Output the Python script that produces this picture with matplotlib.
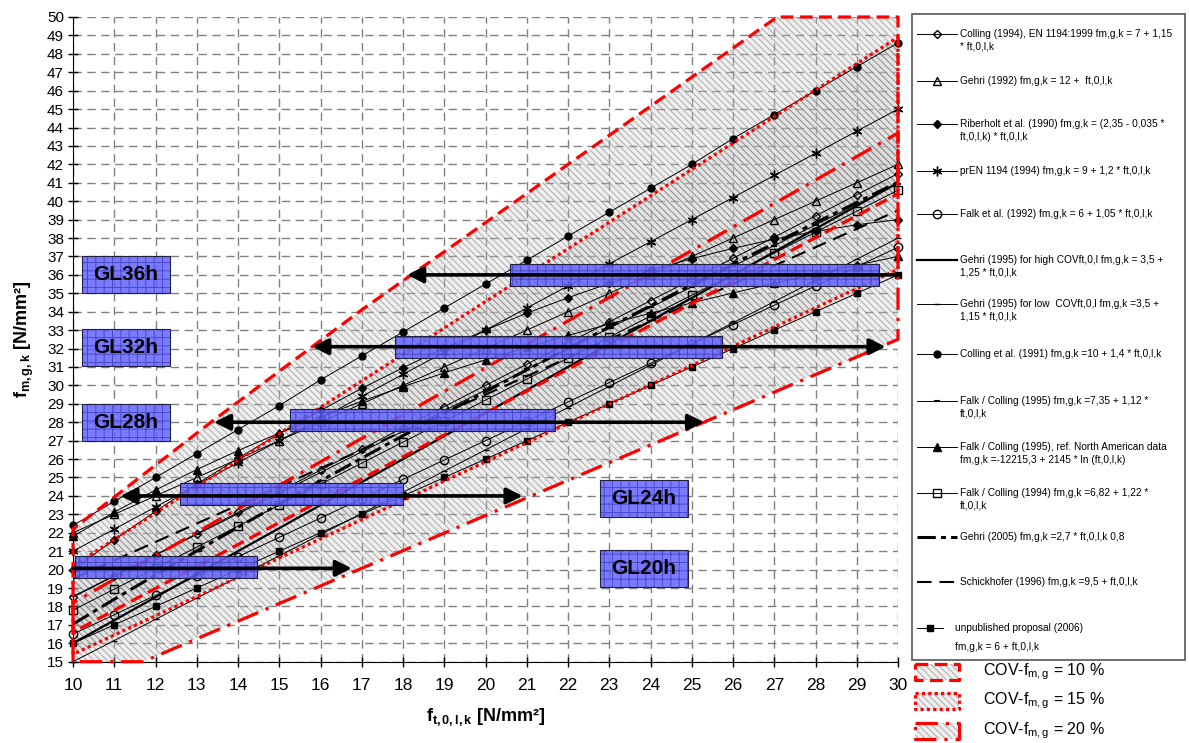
import matplotlib
matplotlib.use('Agg')
import matplotlib.pyplot as plt
from matplotlib.patches import Rectangle

plt.rcParams['font.family'] = ['Liberation Sans', 'DejaVu Sans']
plt.rcParams['mathtext.fontset'] = 'custom'
plt.rcParams['mathtext.rm'] = 'Liberation Sans'
plt.rcParams['mathtext.it'] = 'Liberation Sans'
plt.rcParams['mathtext.bf'] = 'Liberation Sans:bold'
plt.rcParams['hatch.linewidth'] = 0.7

# ---- data ----
ft = [10, 11, 12, 13, 14, 15, 16, 17, 18, 19, 20, 21, 22, 23, 24, 25, 26, 27, 28, 29, 30]

colling94 = [18.5, 19.65, 20.8, 21.95, 23.1, 24.25, 25.4, 26.55, 27.7, 28.85, 30.0,
             31.15, 32.3, 33.45, 34.6, 35.75, 36.9, 38.05, 39.2, 40.35, 41.5]
gehri92 = [22, 23, 24, 25, 26, 27, 28, 29, 30, 31, 32, 33, 34, 35, 36, 37, 38, 39, 40, 41, 42]
riberholt90 = [20.0, 21.62, 23.16, 24.64, 26.04, 27.38, 28.64, 29.84, 30.96, 32.02, 33.0,
               33.92, 34.76, 35.54, 36.24, 36.88, 37.44, 37.94, 38.36, 38.72, 39.0]
pren94 = [21, 22.2, 23.4, 24.6, 25.8, 27, 28.2, 29.4, 30.6, 31.8, 33, 34.2, 35.4, 36.6,
          37.8, 39, 40.2, 41.4, 42.6, 43.8, 45]
falk92 = [16.5, 17.55, 18.6, 19.65, 20.7, 21.75, 22.8, 23.85, 24.9, 25.95, 27.0, 28.05,
          29.1, 30.15, 31.2, 32.25, 33.3, 34.35, 35.4, 36.45, 37.5]
gehri95_high = [16, 17.25, 18.5, 19.75, 21, 22.25, 23.5, 24.75, 26, 27.25, 28.5, 29.75,
                31, 32.25, 33.5, 34.75, 36, 37.25, 38.5, 39.75, 41]
gehri95_low = [15, 16.15, 17.3, 18.45, 19.6, 20.75, 21.9, 23.05, 24.2, 25.35, 26.5, 27.65,
               28.8, 29.95, 31.1, 32.25, 33.4, 34.55, 35.7, 36.85, 38.0]
colling91 = [22.4, 23.7, 25.0, 26.3, 27.6, 28.9, 30.3, 31.6, 32.9, 34.2, 35.5, 36.8,
             38.1, 39.4, 40.7, 42.0, 43.4, 44.7, 46.0, 47.3, 48.6]
falkcol95 = [18.55, 19.67, 20.79, 21.91, 23.03, 24.15, 25.27, 26.39, 27.51, 28.63, 29.75,
             30.87, 31.99, 33.11, 34.23, 35.35, 36.47, 37.59, 38.71, 39.83, 40.95]
falkcol95_na = [21.8, 23.12, 24.32, 25.43, 26.46, 27.41, 28.3, 29.14, 29.93, 30.68, 31.39,
                32.07, 32.71, 33.33, 33.92, 34.48, 35.02, 35.54, 36.05, 36.53, 37.0]
falkcol94 = [17.8, 18.94, 20.08, 21.22, 22.36, 23.5, 24.64, 25.78, 26.92, 28.06, 29.2,
             30.34, 31.48, 32.62, 33.76, 34.9, 36.04, 37.18, 38.32, 39.46, 40.6]
gehri05 = [17.04, 18.39, 19.71, 21.01, 22.3, 23.56, 24.81, 26.05, 27.27, 28.47, 29.66,
           30.84, 32.01, 33.17, 34.32, 35.46, 36.59, 37.71, 38.83, 39.93, 41.03]
schickhofer96 = [19.5, 20.5, 21.5, 22.5, 23.5, 24.5, 25.5, 26.5, 27.5, 28.5, 29.5, 30.5,
                 31.5, 32.5, 33.5, 34.5, 35.5, 36.5, 37.5, 38.5, 39.5]
unpublished06 = [16, 17, 18, 19, 20, 21, 22, 23, 24, 25, 26, 27, 28, 29, 30, 31, 32, 33, 34, 35, 36]

labels = [
    ["Colling (1994), EN 1194:1999 fm,g,k = 7 + 1,15", "* ft,0,l,k"],
    ["Gehri (1992) fm,g,k = 12 +  ft,0,l,k"],
    ["Riberholt et al. (1990) fm,g,k = (2,35 - 0,035 *", "ft,0,l,k) * ft,0,l,k"],
    ["prEN 1194 (1994) fm,g,k = 9 + 1,2 * ft,0,l,k"],
    ["Falk et al. (1992) fm,g,k = 6 + 1,05 * ft,0,l,k"],
    ["Gehri (1995) for high COVft,0,l fm,g,k = 3,5 +", "1,25 * ft,0,l,k"],
    ["Gehri (1995) for low  COVft,0,l fm,g,k =3,5 +", "1,15 * ft,0,l,k"],
    ["Colling et al. (1991) fm,g,k =10 + 1,4 * ft,0,l,k"],
    ["Falk / Colling (1995) fm,g,k =7,35 + 1,12 *", "ft,0,l,k"],
    ["Falk / Colling (1995), ref. North American data", "fm,g,k =-12215,3 + 2145 * ln (ft,0,l,k)"],
    ["Falk / Colling (1994) fm,g,k =6,82 + 1,22 *", "ft,0,l,k"],
    ["Gehri (2005) fm,g,k =2,7 * ft,0,l,k 0,8"],
    ["Schickhofer (1996) fm,g,k =9,5 + ft,0,l,k"],
    ["unpublished proposal (2006)", "fm,g,k = 6 + ft,0,l,k"],
]

# COV bands (corner points)
cov10_x = [10, 10, 13.4, 17, 27.07, 30, 30]
cov10_y = [16.6, 22.2, 28.1, 34.1, 50, 50, 40.4]
cov15_x = [10, 10, 30, 30]
cov15_y = [15.4, 20.2, 48.9, 36.3]
cov20_x = [10, 10, 30, 30, 11.7]
cov20_y = [15, 18.2, 43.7, 32.5, 15]
cov_labels = ["10 %", "15 %", "20 %"]

# GL classes
gl_names = ["GL20h", "GL24h", "GL28h", "GL32h", "GL36h"]
gl_bar_x0 = [10.05, 12.6, 15.27, 17.8, 20.6]
gl_bar_x1 = [14.47, 18.0, 21.68, 25.73, 29.54]
gl_bar_y = [20.13, 24.1, 28.1, 32.1, 36.0]
gl_arrow_y = [20.07, 24.0, 28.0, 32.1, 36.0]
gl_arrow_left = [10.0, 11.15, 13.42, 15.8, 18.1]
gl_arrow_right = [16.76, 20.9, 25.3, 29.7, 30.0]
gl_box_x0 = [22.77, 22.77, 10.22, 10.22, 10.22]
gl_box_y = [20.05, 23.87, 28.0, 32.08, 36.0]

# ---- styles ----
series = [
    (colling94, dict(marker='D', mfc='none', ms=4.5, lw=0.7, ls='-')),
    (gehri92, dict(marker='^', mfc='none', ms=6, lw=0.7, ls='-')),
    (riberholt90, dict(marker='D', mfc='black', ms=4.5, lw=0.7, ls='-')),
    (pren94, dict(marker=(6, 2, 0), mfc='black', ms=7, lw=0.7, ls='-')),
    (falk92, dict(marker='o', mfc='none', ms=6, lw=0.7, ls='-')),
    (gehri95_high, dict(marker='None', lw=1.6, ls='-')),
    (gehri95_low, dict(marker='_', ms=4, lw=0.7, ls='-')),
    (colling91, dict(marker='o', mfc='black', ms=5, lw=0.7, ls='-')),
    (falkcol95, dict(marker='_', ms=5, mew=1.5, lw=0.7, ls='-')),
    (falkcol95_na, dict(marker='^', mfc='black', ms=5.5, lw=0.7, ls='-')),
    (falkcol94, dict(marker='s', mfc='none', ms=5.5, lw=0.7, ls='-')),
    (gehri05, dict(marker='None', lw=2.2, ls=(0, (6, 1.7, 1.6, 1.7)))),
    (schickhofer96, dict(marker='None', lw=1.5, ls=(0, (7, 3.8)))),
    (unpublished06, dict(marker='s', mfc='black', ms=4, lw=0.7, ls='-')),
]

border_ls = [(0, (4, 2)), (0, (1, 1)), (0, (7, 2.5, 1, 2.5))]
hatch_fc = (0.8, 0.8, 0.8, 0.3)
hatch_ec = (0.45, 0.45, 0.45, 0.55)
bar_fc = '#6464ff'
bar_hc = (0.25, 0.25, 0.75, 0.7)

fig = plt.figure(figsize=(11.89, 7.43), dpi=100)
ax = fig.add_axes([73 / 1189, 1 - 661.7 / 743, (898 - 73) / 1189, (661.7 - 17) / 743])

# COV bands
for bx, by in zip([cov10_x, cov15_x, cov20_x], [cov10_y, cov15_y, cov20_y]):
    ax.fill(bx, by, facecolor=hatch_fc, edgecolor=hatch_ec, hatch='\\\\\\\\\\', lw=0, zorder=1)

# series
for vals, st in series:
    ax.plot(ft, vals, color='black', mec='black', zorder=3, clip_on=False, **st)

# band borders on top of lines
for bx, by, ls in zip([cov10_x, cov15_x, cov20_x], [cov10_y, cov15_y, cov20_y], border_ls):
    ax.plot(bx + bx[:1], by + by[:1], color='red', lw=2.3, ls=ls, solid_capstyle='butt',
            dash_capstyle='butt', zorder=4, clip_on=False)

# GL bars and arrows
for x0, x1, yc in zip(gl_bar_x0, gl_bar_x1, gl_bar_y):
    ax.add_patch(Rectangle((x0, yc - 0.6), x1 - x0, 1.2, facecolor=bar_fc, alpha=0.85,
                           edgecolor=bar_hc, hatch='++', lw=0, zorder=5))
    ax.add_patch(Rectangle((x0, yc - 0.6), x1 - x0, 1.2, facecolor='none',
                           edgecolor='#202040', lw=0.8, zorder=5))
for i, (ya, xl, xr) in enumerate(zip(gl_arrow_y, gl_arrow_left, gl_arrow_right)):
    if i == 0:
        style, a, b = '-|>', (xr, ya), (xl, ya)
    elif i == 4:
        style, a, b = '-|>', (xl, ya), (xr, ya)
    else:
        style, a, b = '<|-|>', (xr, ya), (xl, ya)
    ax.annotate('', xy=a, xytext=b, zorder=6,
                arrowprops=dict(arrowstyle=style, color='black', lw=2.6,
                                mutation_scale=24, shrinkA=0, shrinkB=0))

for name, x0, yc in zip(gl_names, gl_box_x0, gl_box_y):
    ax.add_patch(Rectangle((x0, yc - 1.0), 2.13, 2.0, facecolor=bar_fc, alpha=0.85,
                           edgecolor=bar_hc, hatch='++', lw=0, zorder=5))
    ax.add_patch(Rectangle((x0, yc - 1.0), 2.13, 2.0, facecolor='none',
                           edgecolor='#202040', lw=0.8, zorder=5))
    ax.text(x0 + 1.065, yc, name, ha='center', va='center', fontsize=15,
            fontweight='bold', zorder=7)

ax.set_xlim(10, 30)
ax.set_ylim(15, 50)
ax.set_xticks(ft)
ax.set_yticks(list(range(15, 51)))
ax.grid(True, color='#808080', linestyle=(0, (6, 4)), lw=1.0, zorder=0)
ax.set_axisbelow(True)
ax.tick_params(axis='both', direction='inout', length=7, width=1)
ax.tick_params(axis='x', labelsize=12.5, pad=8)
ax.tick_params(axis='y', labelsize=11, pad=3)
ax.spines['top'].set_visible(False)
ax.spines['right'].set_visible(False)
ax.set_xlabel(r'$\mathbf{f_{t,0,l,k}}$ [N/mm²]', fontsize=13, fontweight='bold', labelpad=10)
ax.set_ylabel(r'$\mathbf{f_{m,g,k}}$ [N/mm²]', fontsize=13, fontweight='bold', labelpad=8)

# ---- legend drawn in pixel space ----
ov = fig.add_axes([0, 0, 1, 1], zorder=10)
ov.set_xlim(0, 1189)
ov.set_ylim(743, 0)
ov.axis('off')
ov.patch.set_alpha(0)

ov.add_patch(Rectangle((912, 14), 273, 646, fill=False, edgecolor='#555555', lw=1.2))
entry_y = [34, 80.7, 124, 170.7, 214, 260, 304.3, 354, 400.7, 447.3, 493.3, 537.3, 582.3, 627.7]
for i, ((vals, st), lab, ey) in enumerate(zip(series, labels, entry_y)):
    st2 = dict(st)
    mk = st2.pop('marker')
    x1 = 943 if i == 13 else 957
    ov.plot([917, x1], [ey, ey], color='black', **st2)
    if mk != 'None':
        ov.plot([930 if i == 13 else 937], [ey], color='black', mec='black', marker=mk,
                ls='none', ms=st2.get('ms', 5), mfc=st2.get('mfc', 'black'),
                mew=st2.get('mew', 1.0))
    tx = 955 if i == 13 else 960
    ov.text(tx, ey, lab[0], fontsize=7.3, va='center', ha='left')
    if len(lab) > 1:
        ov.text(tx, ey + (19 if i == 13 else 12.5), lab[1], fontsize=7.3, va='center', ha='left')

cov_y = [672, 701, 731]
for lab, ls, cy in zip(cov_labels, border_ls, cov_y):
    ov.add_patch(Rectangle((915, cy - 8), 44, 16, facecolor=hatch_fc, edgecolor=hatch_ec,
                           hatch='\\\\\\\\\\', lw=0))
    ov.plot([915, 959, 959, 915, 915], [cy - 8, cy - 8, cy + 8, cy + 8, cy - 8], color='red',
            lw=2.3, ls=ls, dash_capstyle='butt')
    ov.text(983, cy, r'COV-f$_{\mathrm{m,g}}$ = ' + lab, fontsize=11.5, va='center', ha='left')

fig.savefig('out.png', dpi=100)
